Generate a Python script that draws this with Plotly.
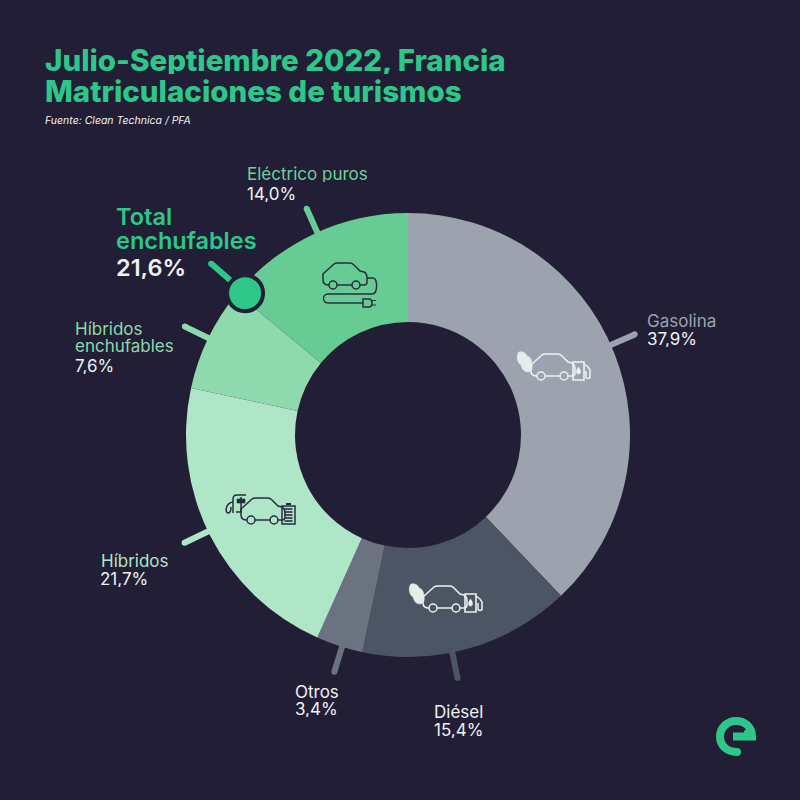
import math
import plotly.graph_objects as go

categories = ["Gasolina", "Diésel", "Otros", "Híbridos", "Híbridos enchufables", "Eléctrico puros"]
shares = [37.9, 15.4, 3.4, 21.7, 7.6, 14.0]
total_plugin = 21.6
colors = ["#9CA3AF", "#4B5563", "#6B7280", "#B0E6C8", "#8FD9AE", "#66CC93"]
label_colors = ["#9CA3AF", "#EEF2F2", "#EEF2F2", "#B0E6C8", "#8FD9AE", "#6FCF9B"]
tick_shift = [-0.6, 1.2, -0.2, 0.3, 0, 0.3]

BG = "#221E35"
GREEN = "#2DC78A"
WHITE = "#EEF2F2"
FONT = "Inter"
CX, CY, R, R_IN = 408, 435, 222, 113


def X(v):
    return v / 800


def Y(v):
    return 1 - v / 800


def path(d):
    out, num_is_x = [], True
    for tok in d.split():
        if tok.isalpha():
            out.append(tok)
            num_is_x = True
        else:
            v = float(tok)
            out.append(f"{X(v):.5f}" if num_is_x else f"{Y(v):.5f}")
            num_is_x = not num_is_x
    res, i = "", 0
    while i < len(out):
        if out[i].isalpha():
            res += out[i]
            i += 1
        else:
            res += f"{out[i]},{out[i+1]} "
            i += 2
    return res


shapes = []
annotations = []


def stroke(d, color, width, fill=None):
    s = dict(type="path", xref="paper", yref="paper", path=path(d), layer="above",
             line=dict(color=color, width=width))
    s["fillcolor"] = fill if fill else "rgba(0,0,0,0)"
    shapes.append(s)


def circle(x, y, r, fill, line=None, lw=0):
    shapes.append(dict(type="circle", xref="paper", yref="paper", layer="above",
                       x0=X(x - r), x1=X(x + r), y0=Y(y + r), y1=Y(y - r),
                       fillcolor=fill, line=dict(color=line or fill, width=lw)))


def polar(pct, rad):
    a = math.radians(pct * 3.6)
    return CX + rad * math.sin(a), CY - rad * math.cos(a)


def tick(pct, r0, r1, color, w=6):
    x0, y0 = polar(pct, r0)
    x1, y1 = polar(pct, r1)
    stroke(f"M {x0:.1f} {y0:.1f} L {x1:.1f} {y1:.1f}", color, w)
    circle(x1, y1, w / 2, color)


def car(dx, dy, color, lw=1.5):
    def p(x, y):
        return f"{x + dx:.1f} {y + dy:.1f}"
    stroke(f"M {p(329, 285)} C {p(325, 285)} {p(323, 283)} {p(323, 280)} L {p(323, 274)} "
           f"L {p(334, 264)} C {p(335, 263)} {p(336, 263)} {p(338, 263)} L {p(350, 263)} "
           f"C {p(352, 263)} {p(353, 264)} {p(354, 265)} L {p(360, 271)} L {p(364, 272)} "
           f"C {p(366, 273)} {p(367, 275)} {p(367, 278)} L {p(367, 282)} "
           f"C {p(367, 284)} {p(366, 285)} {p(364, 285)} L {p(360, 285)}", color, lw)
    stroke(f"M {p(337, 285)} L {p(352, 285)}", color, lw)
    circle(333 + dx, 285 + dy, 4, "rgba(0,0,0,0)", color, lw)
    circle(356 + dx, 285 + dy, 4, "rgba(0,0,0,0)", color, lw)


def pump_icon(dx, dy, color):
    car(dx, dy, color)
    b = lambda x, y: f"{x + dx:.1f} {y + dy:.1f}"
    stroke(f"M {b(365, 271)} L {b(376, 271)} L {b(376, 289)} L {b(365, 289)} Z", color, 1.6)
    stroke(f"M {b(370.5, 276)} C {b(368, 279)} {b(367.5, 283)} {b(370.5, 283)} "
           f"C {b(373.5, 283)} {b(373, 279)} {b(370.5, 276)} Z", color, 0.5, color)
    stroke(f"M {b(376, 273)} L {b(380, 276)} L {b(382, 279)} L {b(382, 286)} "
           f"C {b(382, 288)} {b(378, 288)} {b(378, 286)} L {b(378, 280)}", color, 1.5)
    stroke(f"M {b(311, 261)} C {b(315, 260)} {b(318, 262)} {b(319, 265)} C {b(323, 266)} {b(324, 270)} {b(324, 274)} "
           f"C {b(325, 278)} {b(323, 281)} {b(320, 281)} C {b(316, 281)} {b(314, 278)} {b(313, 274)} "
           f"C {b(309, 272)} {b(308, 264)} {b(311, 261)} Z",
           "#E6ECEA", 0.5, "#E6ECEA")


cum = 0
for share, col, shift in zip(shares, colors, tick_shift):
    tick(cum + share / 2 + shift, R - 4, 248, col)
    cum += share

ICON_DARK = "#2B2A40"
car(0, 0, ICON_DARK)
stroke("M 367 278 L 373 278 C 378 278 378 294 372 294 L 328 294 C 322 294 322 303 328 303 L 363 303",
       ICON_DARK, 1.5)
stroke("M 363 299 L 369 299 C 373 299 373 307 369 307 L 363 307 Z", ICON_DARK, 1.5)
stroke("M 371 300.5 L 376 300.5 M 371 305 L 376 305", ICON_DARK, 1.2)

pump_icon(208, 91, "#EEF2F0")
pump_icon(100, 323, "#EEF2F0")

hx, hy = -82, 235
car(hx, hy, ICON_DARK)
stroke("M 282 506 L 295 506 L 295 524 L 282 524 Z", ICON_DARK, 1.5)
stroke("M 286 504 L 291 504", ICON_DARK, 2)
for yy in (509, 512, 515, 518, 521):
    stroke(f"M 284.5 {yy} L 292.5 {yy}", ICON_DARK, 1.6)
stroke("M 233 513 L 233 499 C 233 496 235 495 237 495 L 246 495", ICON_DARK, 1.5)
stroke("M 236 512 L 241 512 L 241 497", ICON_DARK, 1.5)
stroke("M 237 499 L 245 499 L 245 503 L 237 503 Z", ICON_DARK, 0.6, ICON_DARK)
stroke("M 233 502 C 225 503 225 513 228 513 C 230 513 231 510 231 507", ICON_DARK, 1.5)

boundary = sum(shares[:5])
tick(boundary + 0.4, 216, 261, GREEN)
mx, my = polar(boundary + 0.4, 216)
circle(mx, my, 18, GREEN, BG, 4)

stroke("M 733 736.5 L 752 736.5 C 752 727 745 721 736 721 C 727 721 720 728 720 736.5 "
       "C 720 745.5 727 752 737 752", GREEN, 8)
circle(737, 752, 4, GREEN)
circle(748, 733, 4.2, GREEN)


def text(x, y, s, size, color, weight=400, style="normal", h=None):
    annotations.append(dict(x=X(x), y=Y(y), xref="paper", yref="paper", text=s, showarrow=False,
                            xanchor="left", yanchor="middle", align="left", valign="middle", borderpad=0,
                            borderwidth=0, height=h or round(size * 0.98),
                            font=dict(family=FONT, size=size, color=color, weight=weight, style=style)))


def pct(v):
    return f"{v:.1f}".replace(".", ",") + "%"


text(45, 60, "Julio-Septiembre 2022, Francia", 29.5, GREEN, 800, h=29)
text(45, 90, "Matriculaciones de turismos", 29.5, GREEN, 800, h=29)
text(45, 120, "Fuente: Clean Technica / PFA", 10.5, WHITE, 400, "italic")

text(646.5, 320, categories[0], 17, label_colors[0], h=17)
text(646.5, 338, pct(shares[0]), 17, WHITE, h=17)
text(433.5, 711, categories[1], 17, label_colors[1], h=17)
text(433.5, 729, pct(shares[1]), 17, WHITE, h=17)
text(294.5, 692, categories[2], 17, label_colors[2], h=16)
text(294.5, 709, pct(shares[2]), 17, WHITE, h=16)
text(100.5, 560, categories[3], 17, label_colors[3], h=17)
text(100.5, 578, pct(shares[3]), 17, WHITE, h=17)
text(74.5, 329, "Híbridos", 17, label_colors[4], h=16)
text(74.5, 346, "enchufables", 17, label_colors[4], h=16)
text(74.5, 365, pct(shares[4]), 17, WHITE, h=17)
text(246.5, 173, categories[5], 17, label_colors[5], h=17)
text(246.5, 194, pct(shares[5]), 17, WHITE, h=17)
text(116, 216, "Total", 23.5, GREEN, 600, h=23)
text(116, 240, "enchufables", 23.5, GREEN, 600, h=23)
text(116, 267, pct(total_plugin), 23.5, WHITE, 600, h=24)

fig = go.Figure(go.Pie(
    labels=categories, values=shares, sort=False, direction="clockwise", rotation=0,
    hole=R_IN / R, textinfo="none", showlegend=False, hoverinfo="label+percent",
    marker=dict(colors=colors, line=dict(width=0)),
    domain=dict(x=[X(CX - R), X(CX + R)], y=[Y(CY + R), Y(CY - R)]),
))
fig.update_layout(width=800, height=800, margin=dict(l=0, r=0, t=0, b=0), autosize=False,
                  paper_bgcolor=BG, plot_bgcolor=BG, shapes=shapes, annotations=annotations,
                  font=dict(family=FONT))
fig.write_html("out.html", config={"displayModeBar": False},
               post_script="document.body.style.margin='0';document.body.style.background='#221E35';document.documentElement.style.overflow='hidden';")
